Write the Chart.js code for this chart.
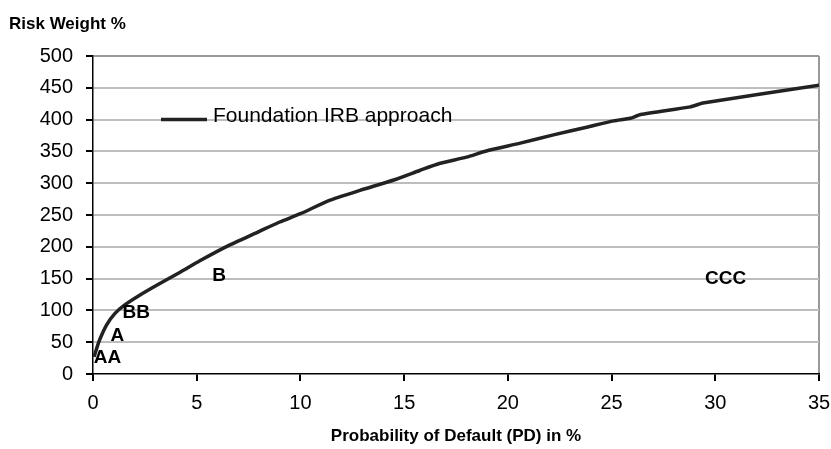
<!DOCTYPE html>
<html lang="en">
<head>
  <meta charset="UTF-8" />
  <title>Risk Weight vs PD</title>
  <script src="https://cdn.jsdelivr.net/npm/chart.js"></script>
  <style>
    html, body { margin: 0; background: #fff; }
    #wrap { width: 831px; height: 449px; }
  </style>
</head>
<body>
<div id="wrap"><canvas id="rwChart" width="831" height="449"></canvas></div>
<script>
// PD in % and risk weight in %
const pdValues = [0.05, 0.3, 0.65, 1.05, 1.5, 2.25, 3.2, 4.2, 5.15, 6.6, 8.0, 9.0, 10.0, 11.4, 12.9, 14.5,
                  15.75, 16.7, 18.0, 19.0, 20.6, 22.2, 23.8, 25.1, 25.9, 26.4, 28.8, 29.4, 35];
const riskWeights = [27, 52, 77, 95, 108, 124, 142, 160, 178, 203, 224, 239, 252, 273, 289, 305,
                     320, 331, 341, 351, 363, 376, 388, 398, 402, 408, 420, 426, 454];

// rating labels placed in data space
const ratingNames = ['AA', 'A', 'BB', 'B', 'CCC'];
const ratingPD = [0.7, 1.17, 2.08, 6.08, 30.5];
const ratingRW = [25, 60, 96, 154, 150];

const seriesName = 'Foundation IRB approach';

const textPlugin = {
  id: 'extraText',
  afterDatasetsDraw(chart) {
    const { ctx, scales: { x, y } } = chart;
    ctx.save();
    ctx.fillStyle = '#000';
    ctx.font = 'bold 19px Arial, "Liberation Sans", sans-serif';
    ctx.textAlign = 'center';
    ctx.textBaseline = 'middle';
    ratingNames.forEach((name, i) => {
      ctx.fillText(name, x.getPixelForValue(ratingPD[i]), y.getPixelForValue(ratingRW[i]));
    });

    // legend: line sample + label sitting on the 400 gridline
    const ly = y.getPixelForValue(400);
    const lx = chart.chartArea.left + 68;
    ctx.strokeStyle = '#222';
    ctx.lineWidth = 3.5;
    ctx.beginPath();
    ctx.moveTo(lx, ly);
    ctx.lineTo(lx + 46, ly);
    ctx.stroke();
    ctx.font = '21px Arial, "Liberation Sans", sans-serif';
    ctx.textAlign = 'left';
    ctx.fillText(seriesName, lx + 52, ly - 3);

    // y axis title at the top left
    ctx.font = 'bold 17px Arial, "Liberation Sans", sans-serif';
    ctx.fillText('Risk Weight %', 9, 24);
    ctx.restore();
  }
};

const ctx = document.getElementById('rwChart').getContext('2d');
new Chart(ctx, {
  type: 'line',
  data: {
    datasets: [{
      label: seriesName,
      data: pdValues.map((v, i) => ({ x: v, y: riskWeights[i] })),
      borderColor: '#222',
      borderWidth: 3.5,
      pointRadius: 0,
      fill: false,
      tension: 0.2
    }]
  },
  options: {
    responsive: false,
    animation: false,
    layout: { padding: { top: 56, right: 0, left: 0, bottom: 0 } },
    plugins: { legend: { display: false }, tooltip: { enabled: false } },
    scales: {
      x: {
        type: 'linear',
        min: 0, max: 35,
        ticks: { stepSize: 5, color: '#000', padding: 10, maxRotation: 0,
                 font: { size: 20, family: 'Arial, "Liberation Sans", sans-serif' } },
        grid: {
          color: c => c.tick && c.tick.value === 35 ? '#999' : 'rgba(0,0,0,0)',
          lineWidth: 2,
          tickColor: '#000',
          tickLength: 7,
          drawTicks: true
        },
        border: { display: true, color: '#000', width: 1.5 },
        title: { display: true, text: 'Probability of Default (PD) in %', color: '#000',
                 padding: { top: 0, bottom: 2 },
                 font: { size: 17, weight: 'bold', family: 'Arial, "Liberation Sans", sans-serif' } },
        afterFit: s => { s.height = 75; s.paddingRight = 12; }
      },
      y: {
        min: 0, max: 500,
        ticks: { stepSize: 50, color: '#000', padding: 13,
                 font: { size: 20, family: 'Arial, "Liberation Sans", sans-serif' } },
        grid: {
          color: c => c.tick && c.tick.value === 0 ? 'rgba(0,0,0,0)' : (c.tick && c.tick.value === 500 ? '#999' : '#bdbdbd'),
          lineWidth: 2,
          tickColor: '#000',
          tickLength: 7
        },
        border: { display: true, color: '#000', width: 1.5 },
        afterFit: s => { s.width = 93; }
      }
    }
  },
  plugins: [textPlugin]
});
</script>
</body>
</html>
